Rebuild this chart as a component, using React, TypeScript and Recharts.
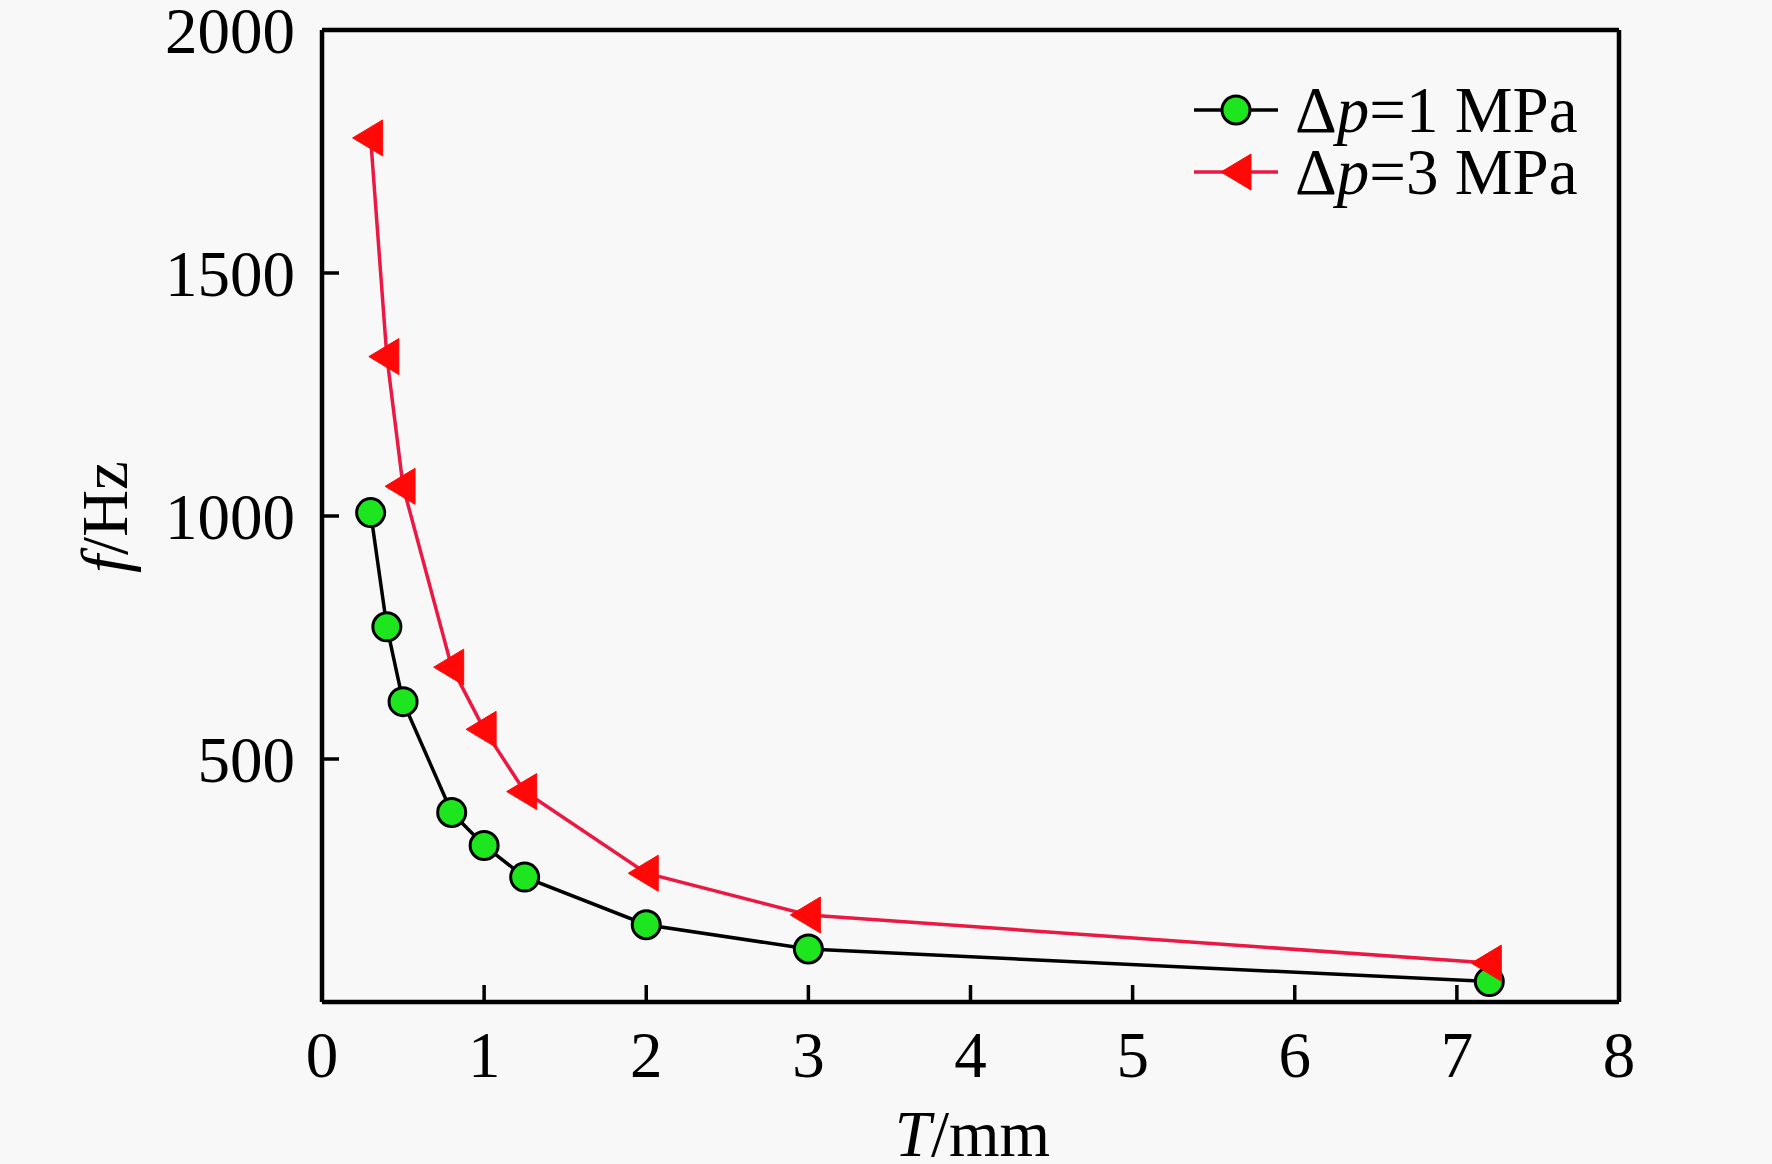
import { Line, LineChart, XAxis, YAxis } from 'recharts';

// T / mm
const thickness = [0.3, 0.4, 0.5, 0.8, 1, 1.25, 2, 3, 7.2];
// f / Hz, Δp = 1 MPa
const freqLow = [1007, 772, 618, 390, 322, 257, 159, 109, 42];
// f / Hz, Δp = 3 MPa
const freqHigh = [1778, 1328, 1061, 689, 561, 433, 265, 179, 80];

const seriesNames = ['Δp=1 MPa', 'Δp=3 MPa'];
const xTicks = [0, 1, 2, 3, 4, 5, 6, 7, 8];
const yTicks = [500, 1000, 1500, 2000];

const FONT = '"Liberation Serif", "Times New Roman", serif';
const FS = 65;
const TICK_LEN = 17;
const RED_LINE = '#ec1844';
const AXIS_W = 4.5;
const TICK_W = 3.5;

const lowData = thickness.map((T, i) => ({ T, f: freqLow[i] }));
const highData = thickness.map((T, i) => ({ T, f: freqHigh[i] }));

type TickProps = { x?: number; y?: number; payload?: { value: number } };

function BottomTick({ x = 0, y = 0, payload }: TickProps) {
  const v = payload?.value ?? 0;
  return (
    <g>
      {v > 0 && v < 8 && (
        <line x1={x} y1={y} x2={x} y2={y - TICK_LEN} stroke="#000" strokeWidth={TICK_W} />
      )}
      <text x={x} y={y + 75} textAnchor="middle" fontSize={FS} fontFamily={FONT} fill="#000">
        {v}
      </text>
    </g>
  );
}

function TopTick({ x = 0, y = 0, payload }: TickProps) {
  const v = payload?.value ?? 0;
  if (v <= 0 || v >= 8) return <g />;
  return <line x1={x} y1={y} x2={x} y2={y + TICK_LEN} stroke="#000" strokeWidth={TICK_W} />;
}

function LeftTick({ x = 0, y = 0, payload }: TickProps) {
  const v = payload?.value ?? 0;
  return (
    <g>
      {v < 2000 && (
        <line x1={x} y1={y} x2={x + TICK_LEN} y2={y} stroke="#000" strokeWidth={TICK_W} />
      )}
      <text x={x - 27} y={y + 23} textAnchor="end" fontSize={FS} fontFamily={FONT} fill="#000">
        {v}
      </text>
    </g>
  );
}

function RightTick({ x = 0, y = 0, payload }: TickProps) {
  const v = payload?.value ?? 0;
  if (v <= 0 || v >= 2000) return <g />;
  return <line x1={x} y1={y} x2={x - TICK_LEN} y2={y} stroke="#000" strokeWidth={TICK_W} />;
}

type DotProps = { cx?: number; cy?: number; index?: number };

function CircleDot({ cx, cy }: DotProps) {
  if (cx == null || cy == null) return <g />;
  return <circle cx={cx} cy={cy} r={14} fill="#1ee61e" stroke="#000" strokeWidth={3} />;
}

function TriangleDot({ cx, cy }: DotProps) {
  if (cx == null || cy == null) return <g />;
  const pts = `${cx - 18},${cy} ${cx + 12},${cy - 18} ${cx + 12},${cy + 18}`;
  return <polygon points={pts} fill="#ff0808" stroke="#ff0808" strokeWidth={1} />;
}

function SeriesName({ name }: { name: string }) {
  // the "p" in Δp is italic
  return (
    <span>
      {name.slice(0, 1)}
      <i>{name.slice(1, 2)}</i>
      {name.slice(2)}
    </span>
  );
}

function LegendBox() {
  const icons = [
    <g>
      <line x1={0} y1={31} x2={84} y2={31} stroke="#000" strokeWidth={3.5} />
      <CircleDot cx={42} cy={31} />
    </g>,
    <g>
      <line x1={0} y1={31} x2={84} y2={31} stroke={RED_LINE} strokeWidth={3.5} />
      <TriangleDot cx={45} cy={31} />
    </g>,
  ];
  return (
    <div
      style={{
        position: 'absolute',
        left: 1194,
        top: 79,
        fontFamily: FONT,
        fontSize: FS,
        lineHeight: '62px',
        color: '#000',
      }}
    >
      {seriesNames.map((n, i) => (
        <div key={n} style={{ display: 'flex', alignItems: 'center', height: 62 }}>
          <svg width={84} height={62} style={{ overflow: 'visible' }}>
            {icons[i]}
          </svg>
          <span style={{ marginLeft: 17, whiteSpace: 'nowrap' }}>
            <SeriesName name={n} />
          </span>
        </div>
      ))}
    </div>
  );
}

function YTitle(props: any) {
  const vb = props.viewBox ?? { x: 0, y: 30, width: 322, height: 972 };
  const cx = vb.x + 127;
  const cy = vb.y + vb.height / 2 + 1;
  return (
    <text
      x={cx}
      y={cy}
      transform={`rotate(-90, ${cx}, ${cy})`}
      textAnchor="middle"
      fontSize={FS}
      fontFamily={FONT}
      fill="#000"
    >
      <tspan fontStyle="italic">f</tspan>
      <tspan>/Hz</tspan>
    </text>
  );
}

function XTitle(props: any) {
  const vb = props.viewBox ?? { x: 322, y: 1002, width: 1297, height: 162 };
  const cx = vb.x + vb.width / 2 + 2;
  return (
    <text x={cx} y={vb.y + 154} textAnchor="middle" fontSize={FS} fontFamily={FONT} fill="#000">
      <tspan fontStyle="italic">T</tspan>
      <tspan>/mm</tspan>
    </text>
  );
}

export default function App() {
  return (
    <div
      style={{
        position: 'absolute',
        left: 0,
        top: 0,
        width: 1772,
        height: 1164,
        background: '#f8f8f8',
        overflow: 'hidden',
      }}
    >
      <LineChart width={1772} height={1164} margin={{ top: 0, right: 0, bottom: 0, left: 0 }}>
        <XAxis
          xAxisId="bottom"
          dataKey="T"
          type="number"
          domain={[0, 8]}
          ticks={xTicks}
          interval={0}
          height={162}
          tickSize={0}
          tickMargin={0}
          tickLine={false}
          axisLine={{ stroke: '#000', strokeWidth: AXIS_W }}
          tick={<BottomTick />}
          label={{ content: (p: any) => <XTitle {...p} /> }}
        />
        <XAxis
          xAxisId="top"
          orientation="top"
          dataKey="T"
          type="number"
          domain={[0, 8]}
          ticks={xTicks}
          interval={0}
          height={30}
          tickSize={0}
          tickMargin={0}
          tickLine={false}
          axisLine={{ stroke: '#000', strokeWidth: AXIS_W }}
          tick={<TopTick />}
        />
        <YAxis
          yAxisId="left"
          type="number"
          domain={[0, 2000]}
          ticks={yTicks}
          interval={0}
          width={322}
          tickSize={0}
          tickMargin={0}
          tickLine={false}
          axisLine={{ stroke: '#000', strokeWidth: AXIS_W }}
          tick={<LeftTick />}
          label={{ content: (p: any) => <YTitle {...p} /> }}
        />
        <YAxis
          yAxisId="right"
          orientation="right"
          type="number"
          domain={[0, 2000]}
          ticks={yTicks}
          interval={0}
          width={153}
          tickSize={0}
          tickMargin={0}
          tickLine={false}
          axisLine={{ stroke: '#000', strokeWidth: AXIS_W }}
          tick={<RightTick />}
        />
        <Line
          xAxisId="bottom"
          yAxisId="left"
          data={lowData}
          dataKey="f"
          name={seriesNames[0]}
          type="linear"
          stroke="#000"
          strokeWidth={3.5}
          dot={(p: any) => <CircleDot key={`c-${p.index}`} cx={p.cx} cy={p.cy} />}
          activeDot={false}
          isAnimationActive={false}
        />
        <Line
          xAxisId="bottom"
          yAxisId="left"
          data={highData}
          dataKey="f"
          name={seriesNames[1]}
          type="linear"
          stroke={RED_LINE}
          strokeWidth={3.5}
          dot={(p: any) => <TriangleDot key={`t-${p.index}`} cx={p.cx} cy={p.cy} />}
          activeDot={false}
          isAnimationActive={false}
        />
      </LineChart>
      <LegendBox />
    </div>
  );
}
